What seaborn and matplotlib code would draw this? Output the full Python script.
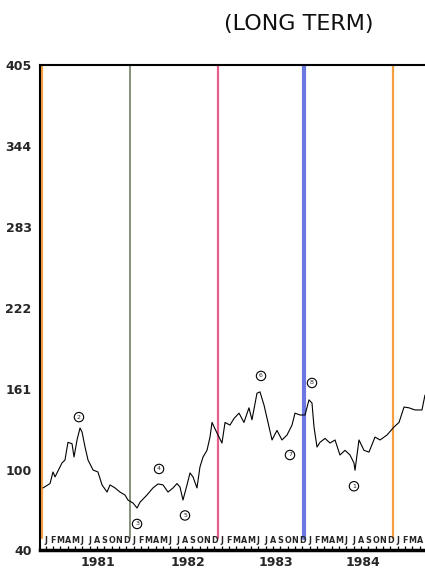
import matplotlib
matplotlib.use("Agg")
import matplotlib.pyplot as plt
import matplotlib.transforms as mtransforms
import seaborn as sns
import numpy as np
import pandas as pd

# ---- data ----
dates = [1981.011, 1981.091, 1981.125, 1981.148, 1981.227, 1981.261, 1981.295, 1981.341,
         1981.364, 1981.398, 1981.432, 1981.455, 1981.489, 1981.523, 1981.580, 1981.636,
         1981.682, 1981.739, 1981.773, 1981.830, 1981.886, 1981.943, 1981.977, 1982.034,
         1982.080, 1982.114, 1982.193, 1982.261, 1982.318, 1982.375, 1982.432, 1982.489,
         1982.534, 1982.568, 1982.602, 1982.648, 1982.682, 1982.716, 1982.761, 1982.795,
         1982.830, 1982.875, 1982.909, 1982.932, 1982.989, 1983.045, 1983.080, 1983.136,
         1983.182, 1983.239, 1983.295, 1983.352, 1983.386, 1983.443, 1983.477, 1983.523,
         1983.580, 1983.614, 1983.670, 1983.727, 1983.784, 1983.841, 1983.875, 1983.932,
         1983.989, 1984.034, 1984.068, 1984.091, 1984.125, 1984.159, 1984.216, 1984.273,
         1984.330, 1984.386, 1984.443, 1984.500, 1984.545, 1984.557, 1984.602, 1984.659,
         1984.716, 1984.784, 1984.841, 1984.920, 1985.000, 1985.057, 1985.114, 1985.170,
         1985.239, 1985.318, 1985.352]
prices = [86.7, 90.0, 98.7, 95.0, 105.5, 107.7, 121.0, 120.0,
          110.0, 122.8, 131.8, 128.8, 117.5, 107.7, 100.2, 98.7,
          89.0, 83.6, 89.0, 86.7, 83.6, 81.4, 77.6, 75.4,
          71.6, 76.0, 81.4, 86.7, 89.7, 89.0, 83.6, 86.7,
          90.0, 87.4, 77.6, 89.0, 98.0, 95.0, 86.7, 102.5,
          110.0, 115.0, 125.0, 136.0, 128.0, 120.5, 136.0, 134.0,
          139.0, 143.0, 136.0, 147.0, 138.0, 158.0, 159.0, 149.0,
          132.6, 122.8, 130.0, 122.8, 126.5, 134.0, 143.0, 141.6,
          141.6, 153.0, 150.6, 132.6, 117.5, 121.0, 124.0, 120.5,
          122.8, 111.5, 115.0, 111.5, 105.5, 100.0, 122.8, 115.0,
          113.7, 125.0, 122.8, 126.5, 132.6, 136.0, 147.6, 147.0,
          145.4, 145.4, 156.6]

y_ticks = [40, 100, 161, 222, 283, 344, 405]
year_labels = ["1981", "1982", "1983", "1984"]
month_letters = list("JFMAMJJASOND")

vline_dates = [1981.0, 1982.0, 1983.0, 1983.98, 1984.99]
vline_colors = ["#f4a040", "#6f7f63", "#e8608a", "#6a78e0", "#f4a040"]
vline_widths = [1.6, 1.2, 1.6, 3.0, 1.6]

wave_labels = ["2", "3", "4", "5", "6", "7", "8", "1"]
wave_x = [1981.420, 1982.080, 1982.330, 1982.625, 1983.489, 1983.818, 1984.068, 1984.545]
wave_y = [140, 59.6, 101, 66, 171, 111.5, 165.7, 88]

df = pd.DataFrame({"date": dates, "price": prices})

# ---- figure ----
sns.set_theme(style="white")
plt.rcParams['font.family'] = ['DejaVu Sans']
fig = plt.figure(figsize=(4.25, 5.75), dpi=100)
ax = fig.add_axes([40/425, 1-550/575, 1-40/425, 485/575])

sns.lineplot(data=df, x="date", y="price", ax=ax, color="black", lw=0.8)

for d, c, w in zip(vline_dates, vline_colors, vline_widths):
    ax.axvline(d, ymin=0.025, ymax=1, color=c, lw=w, zorder=1)

for lab, x, y in zip(wave_labels, wave_x, wave_y):
    ax.text(x, y, lab, fontsize=4.5, ha="center", va="center",
            bbox=dict(boxstyle="circle,pad=0.35", fc="white", ec="black", lw=0.8))

ax.set_yticks(y_ticks)
ax.set_yticklabels([str(v) for v in y_ticks], fontsize=9, fontweight="bold")

# month ticks and letters
xmin, xmax = 1981 - 2/88, 1981 + 383/88
months = np.arange(1981, 1985.5, 1/12)
months = months[months + 1/24 <= xmax]
ax.set_xticks(months + 1/24, minor=True)
ax.tick_params(axis="x", which="minor", direction="in", length=3, width=0.9,
               color="black", bottom=True)
year_pos = [1981.64, 1982.66, 1983.66, 1984.65]
ax.set_xticks(year_pos)
ax.set_xticklabels(year_labels, fontsize=9, fontweight="bold")
ax.tick_params(axis="x", which="major", length=0, pad=4)
ax.tick_params(axis="y", length=0, pad=6)
ax.set_xlim(xmin, xmax)
ax.set_ylim(40, 405)
trans = mtransforms.blended_transform_factory(ax.transData, ax.transAxes)
for i, m in enumerate(months):
    ax.text(m + 1/24, 0.02, month_letters[i % 12], transform=trans, fontsize=5.8,
            fontweight="bold", ha="center", va="center")

ax.set_xlabel("")
ax.set_ylabel("")
ax.grid(False)
for s in ["left", "top"]:
    ax.spines[s].set_color("black")
    ax.spines[s].set_linewidth(1.5)
ax.spines["bottom"].set_color("black")
ax.spines["bottom"].set_linewidth(2.5)
ax.spines["right"].set_visible(False)

fig.text(0.703, 0.958, "(LONG TERM)", fontsize=16, ha="center", va="center",
         color="#111111")

fig.savefig("out.png", dpi=100)
